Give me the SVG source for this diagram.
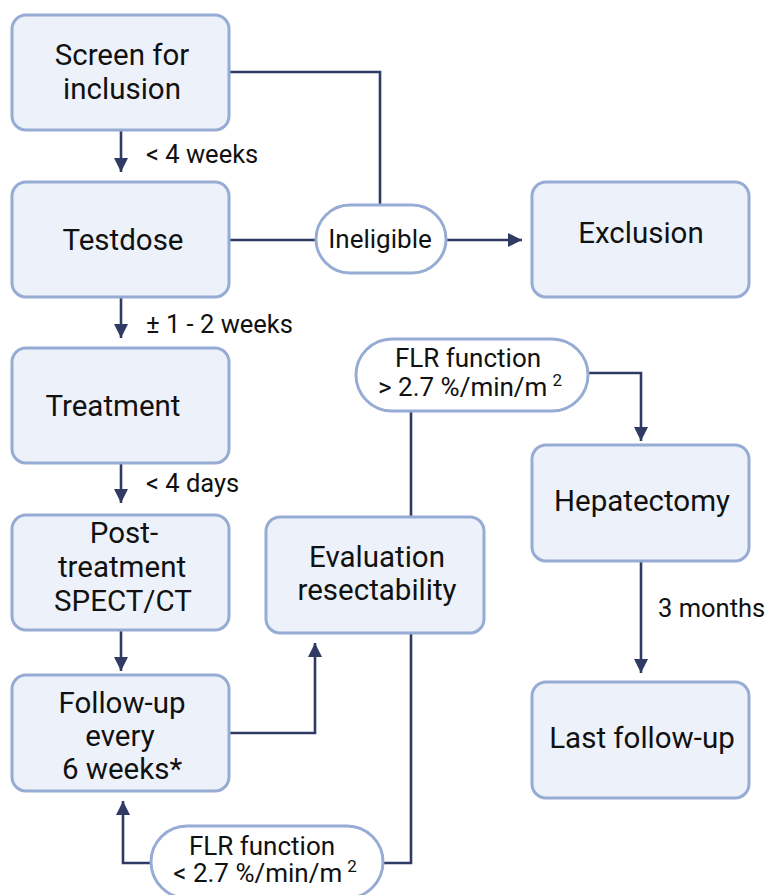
<svg xmlns="http://www.w3.org/2000/svg" width="769" height="895" viewBox="0 0 769 895">
<style>
.box{fill:#EDF2FA;stroke:#97ACD5;stroke-width:3}
.pill{fill:#FFFFFF;stroke:#97ACD5;stroke-width:3}
.t{font-family:Roboto,"Liberation Sans",sans-serif;font-size:29.5px;fill:#111111;text-anchor:middle}
.p{font-family:Roboto,"Liberation Sans",sans-serif;font-size:26px;fill:#111111;text-anchor:middle}
.l{font-family:Roboto,"Liberation Sans",sans-serif;font-size:25.5px;fill:#111111}
.c{fill:none;stroke:#2F3B64;stroke-width:2.6}
</style>
<defs>
<marker id="ah" markerUnits="userSpaceOnUse" markerWidth="14" markerHeight="14" viewBox="0 0 14 14" refX="14" refY="7" orient="auto">
<path d="M0,0 L14,7 L0,14 z" fill="#2F3B64"/>
</marker>
</defs>
<g id="connectors">
<path class="c" d="M121,131 V172" marker-end="url(#ah)"/>
<path class="c" d="M121,298 V338" marker-end="url(#ah)"/>
<path class="c" d="M121,463 V503" marker-end="url(#ah)"/>
<path class="c" d="M121,631 V671" marker-end="url(#ah)"/>
<path class="c" d="M229,72 H380 V204"/>
<path class="c" d="M229,240 H315"/>
<path class="c" d="M446,240 H522" marker-end="url(#ah)"/>
<path class="c" d="M229,733 H315 V643" marker-end="url(#ah)"/>
<path class="c" d="M411,633 V863 H383"/>
<path class="c" d="M150,863 H123 V801" marker-end="url(#ah)"/>
<path class="c" d="M411,517 V411"/>
<path class="c" d="M588,373 H641 V441" marker-end="url(#ah)"/>
<path class="c" d="M641,561 V673" marker-end="url(#ah)"/>
</g>
<g id="labels">
<text class="l" x="146" y="163">&lt; 4 weeks</text>
<text class="l" x="146" y="333">± 1 - 2 weeks</text>
<text class="l" x="146" y="492">&lt; 4 days</text>
<text class="l" x="658" y="617">3 months</text>
</g>
<g id="screen">
<rect class="box" x="12" y="15" width="217" height="115" rx="14"/>
<text class="t" x="122" y="65">Screen for</text>
<text class="t" x="122" y="99">inclusion</text>
</g>
<g id="testdose">
<rect class="box" x="12" y="182" width="217" height="115" rx="14"/>
<text class="t" x="123" y="250">Testdose</text>
</g>
<g id="treatment">
<rect class="box" x="12" y="348" width="217" height="115" rx="14"/>
<text class="t" x="113" y="416">Treatment</text>
</g>
<g id="post-treatment">
<rect class="box" x="12" y="515" width="217" height="115" rx="14"/>
<text class="t" x="124" y="543">Post-</text>
<text class="t" x="122" y="577">treatment</text>
<text class="t" x="123" y="611">SPECT/CT</text>
</g>
<g id="follow-up">
<rect class="box" x="12" y="675" width="217" height="116" rx="14"/>
<text class="t" x="122" y="713">Follow-up</text>
<text class="t" x="120" y="746">every</text>
<text class="t" x="122" y="779">6 weeks*</text>
</g>
<g id="ineligible">
<rect class="pill" x="316" y="205" width="130" height="68" rx="34"/>
<text class="p" x="380" y="248">Ineligible</text>
</g>
<g id="exclusion">
<rect class="box" x="532" y="182" width="217" height="115" rx="14"/>
<text class="t" x="641" y="243">Exclusion</text>
</g>
<g id="evaluation">
<rect class="box" x="266" y="517" width="218" height="116" rx="14"/>
<text class="t" x="377" y="567">Evaluation</text>
<text class="t" x="377" y="600">resectability</text>
</g>
<g id="flr-high">
<rect class="pill" x="356" y="339" width="232" height="72" rx="36"/>
<text class="p" x="468" y="367">FLR function</text>
<text class="p" x="470" y="396">&gt; 2.7 %/min/m<tspan font-size="17" dx="5" dy="-10">2</tspan></text>
</g>
<g id="hepatectomy">
<rect class="box" x="532" y="445" width="217" height="116" rx="14"/>
<text class="t" x="642" y="511">Hepatectomy</text>
</g>
<g id="last-follow-up">
<rect class="box" x="532" y="682" width="217" height="116" rx="14"/>
<text class="t" x="642" y="748">Last follow-up</text>
</g>
<g id="flr-low">
<rect class="pill" x="151" y="826" width="232" height="72" rx="36"/>
<text class="p" x="262" y="855">FLR function</text>
<text class="p" x="265" y="882">&lt; 2.7 %/min/m<tspan font-size="17" dx="5" dy="-10">2</tspan></text>
</g>
</svg>
